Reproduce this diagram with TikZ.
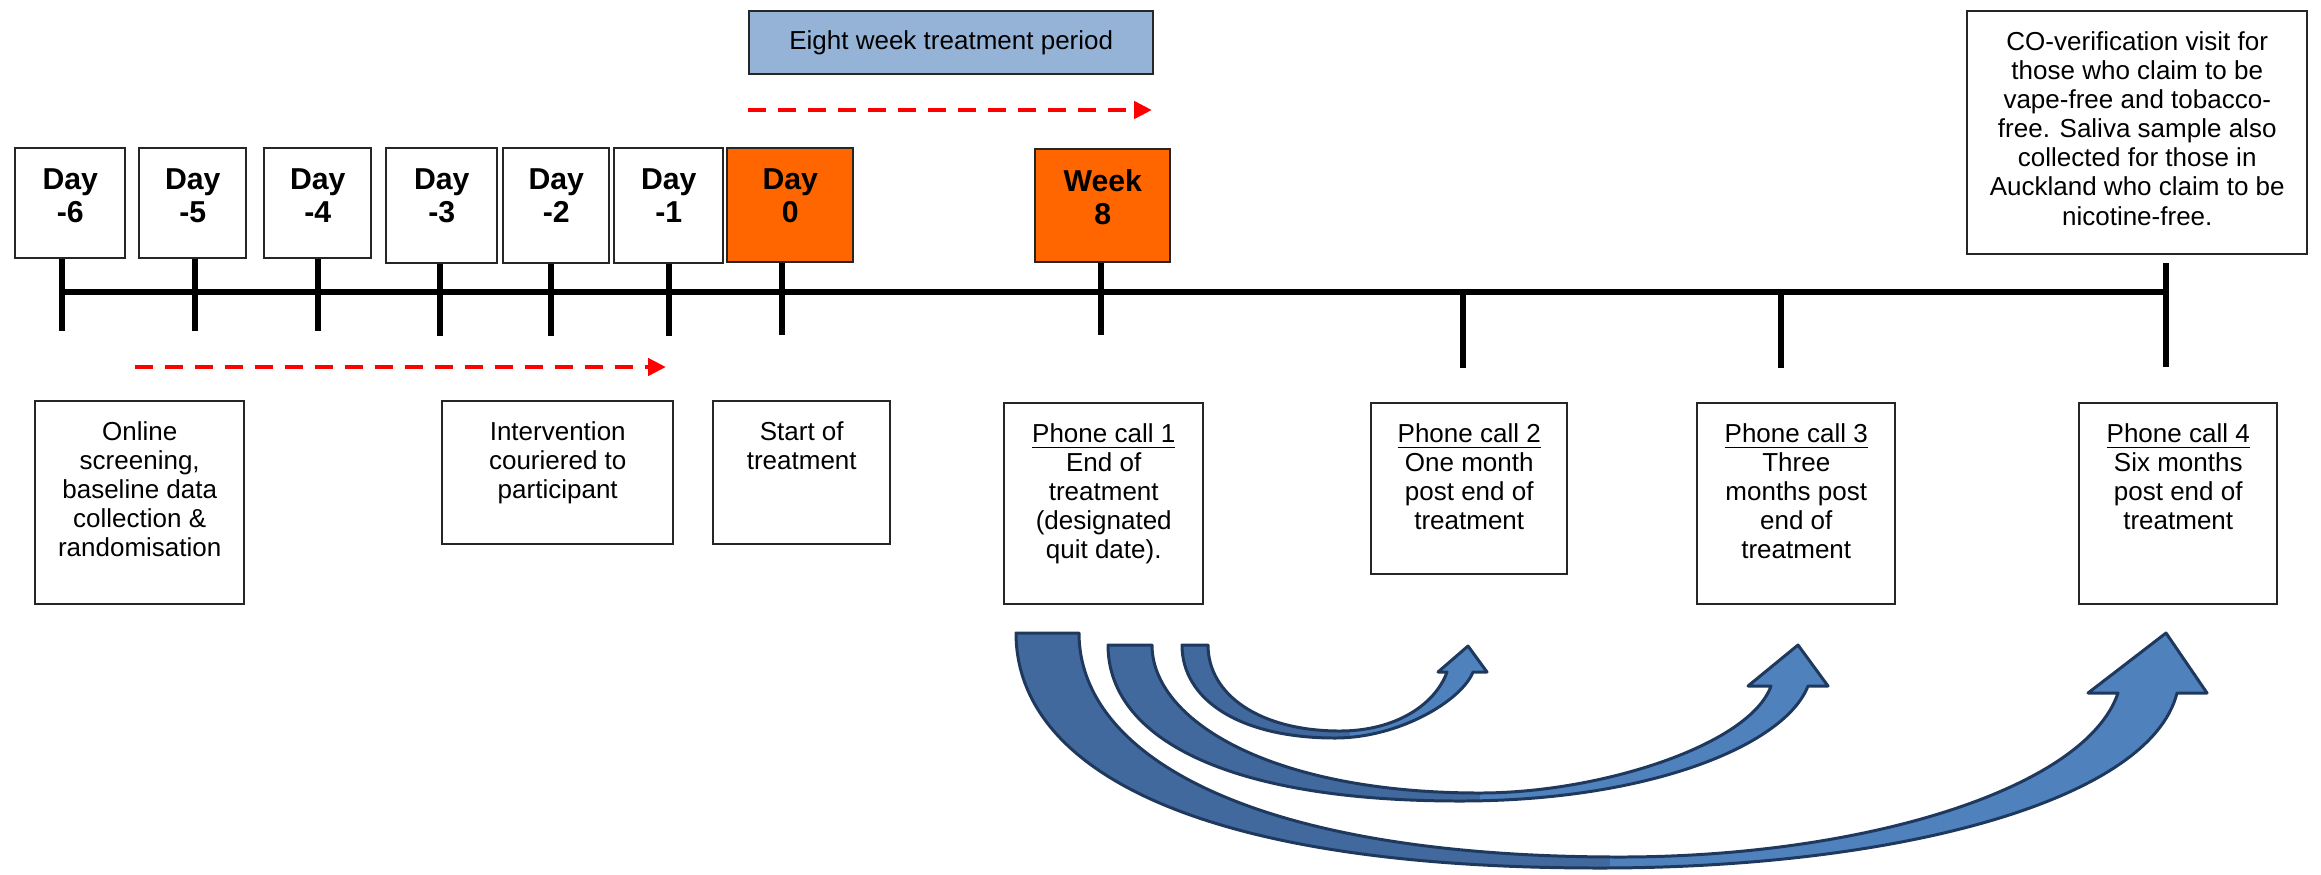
\documentclass[tikz,border=0pt]{standalone}
\usepackage{fontspec}
\setmainfont{Liberation Sans}
\usetikzlibrary{arrows.meta,positioning}

\definecolor{nowOrange}{HTML}{FF6600}
\definecolor{periodBlue}{HTML}{95B3D7}
\definecolor{bandDark}{HTML}{41699E}
\definecolor{bandLight}{HTML}{4F81BD}
\definecolor{bandEdge}{HTML}{1F385D}

% top-aligned, centred text in a box of given width and height
\newcommand{\boxtext}[3]{\parbox[t][#2][t]{#1}{\centering\vspace*{0.2cm}#3}}

\begin{document}
\begin{tikzpicture}[>=Stealth]
  % --- Styles ---
    \tikzset{
      dayBox/.style    = {draw=black!85,line width=0.7pt,fill=white,inner sep=0pt,anchor=north west,
                          font=\fontsize{8.6}{9.4}\selectfont\bfseries},
      dayNow/.style    = {dayBox,fill=nowOrange},
      evt/.style       = {draw=black!85,line width=0.7pt,inner sep=0pt,anchor=north west,
                          font=\fontsize{7.4}{8.3}\selectfont},
      period/.style    = {evt,fill=periodBlue,minimum width=4.04cm,minimum height=0.63cm},
      tline/.style     = {line width=1.6pt},
      tick/.style      = {line width=1.6pt},
      spanArrow/.style = {red,line width=1.4pt,dash pattern=on 0.18cm off 0.12cm,
                          -{Triangle[length=0.18cm,width=0.17cm]}},
      band/.style      = {draw=bandEdge,line width=0.85pt,line join=round,fill=bandLight}
    }

    \useasboundingbox (0,0) rectangle (23.21,-8.74);

    % --- Day boxes above the line ---
    \node[dayBox] (dm6) at (0.14,-1.47) {\boxtext{1.10cm}{1.10cm}{Day\\-6}};
    \node[dayBox] (dm5) at (1.38,-1.47) {\boxtext{1.07cm}{1.10cm}{Day\\-5}};
    \node[dayBox] (dm4) at (2.63,-1.47) {\boxtext{1.07cm}{1.10cm}{Day\\-4}};
    \node[dayBox] (dm3) at (3.85,-1.47) {\boxtext{1.11cm}{1.15cm}{Day\\-3}};
    \node[dayBox] (dm2) at (5.02,-1.47) {\boxtext{1.06cm}{1.15cm}{Day\\-2}};
    \node[dayBox] (dm1) at (6.13,-1.47) {\boxtext{1.09cm}{1.15cm}{Day\\-1}};
    \node[dayNow] (d0)  at (7.26,-1.47) {\boxtext{1.26cm}{1.14cm}{Day\\0}};
    \node[dayNow] (w8)  at (10.34,-1.48) {\boxtext{1.35cm}{1.13cm}{Week\\8}};

    % --- Timeline and ticks ---
    \coordinate (pc2Tick) at (14.63,-2.92);
    \coordinate (pc3Tick) at (17.81,-2.92);
    \coordinate (pc4Tick) at (21.66,-2.92);
    \draw[tline] ([xshift=-0.08cm]dm6.south |- pc4Tick) -- (pc4Tick);
    \foreach \d/\s in {dm6/-0.08,dm5/0.02,dm4/0,dm3/-0.02,dm2/-0.05,dm1/0,d0/-0.08,w8/-0.02}
      \draw[tick] ([xshift=\s cm]\d.south) -- ++(0,-0.72);
    \draw[tick] (pc2Tick) -- ++(0,-0.76);
    \draw[tick] (pc3Tick) -- ++(0,-0.76);
    \draw[tick] ([yshift=0.29cm]pc4Tick) -- ++(0,-1.04);

    % --- Periods (red dashed) ---
    \node[period] (eightWk) at (7.48,-0.10) {Eight week treatment period};
    \coordinate (treatStart) at (7.48,-1.10);
    \coordinate (treatEnd) at (11.52,-1.10);
    \draw[spanArrow] (treatStart) -- (treatEnd);
    \coordinate (leadStart) at (1.35,-3.67);
    \coordinate (leadEnd) at (6.66,-3.67);
    \draw[spanArrow] (leadStart) -- (leadEnd);

    % --- Event boxes ---
    \node[evt] (coVisit) at (19.66,-0.10) {\boxtext{3.40cm}{2.43cm}{CO-verification visit for\\those who claim to be\\vape-free and tobacco-\\free. Saliva sample also\\collected for those in\\Auckland who claim to be\\nicotine-free.}};
    \node[evt] (online) at (0.34,-4.00) {\boxtext{2.09cm}{2.03cm}{Online\\screening,\\baseline data\\collection \&\\randomisation}};
    \node[evt] (courier) at (4.41,-4.00) {\boxtext{2.31cm}{1.43cm}{Intervention\\couriered to\\participant}};
    \node[evt] (startTx) at (7.12,-4.00) {\boxtext{1.77cm}{1.43cm}{Start of\\treatment}};
    \node[evt] (pc1) at (10.03,-4.02) {\boxtext{1.99cm}{2.01cm}{\underline{Phone call 1}\\End of\\treatment\\(designated\\quit date).}};
    \node[evt] (pc2) at (13.70,-4.02) {\boxtext{1.96cm}{1.71cm}{\underline{Phone call 2}\\One month\\post end of\\treatment}};
    \node[evt] (pc3) at (16.96,-4.02) {\boxtext{1.98cm}{2.01cm}{\underline{Phone call 3}\\Three\\months post\\end of\\treatment}};
    \node[evt] (pc4) at (20.78,-4.02) {\boxtext{1.98cm}{2.01cm}{\underline{Phone call 4}\\Six months\\post end of\\treatment}};

    % --- Curved follow-up arrows ---
    \filldraw[band,path picture={\fill[bandDark] (9,-6) rectangle (16.1,-9);}]
      (10.16,-6.33) .. controls (10.16,-7.60) and (11.75,-8.68) .. (16.00,-8.68)
      .. controls (19.00,-8.68) and (21.50,-8.00) .. (21.77,-6.93)
      -- (22.07,-6.93) -- (21.66,-6.33) -- (20.88,-6.93) -- (21.18,-6.93)
      .. controls (20.85,-7.90) and (18.60,-8.57) .. (16.20,-8.57)
      .. controls (12.50,-8.57) and (10.79,-7.55) .. (10.79,-6.33) -- cycle;
    \filldraw[band,path picture={\fill[bandDark] (9,-6) rectangle (14.8,-9);}]
      (11.08,-6.45) .. controls (11.08,-7.35) and (12.20,-8.01) .. (14.60,-8.01)
      .. controls (16.50,-8.01) and (17.85,-7.45) .. (18.08,-6.86)
      -- (18.28,-6.86) -- (17.98,-6.45) -- (17.48,-6.86) -- (17.71,-6.86)
      .. controls (17.50,-7.45) and (16.00,-7.93) .. (14.80,-7.93)
      .. controls (12.70,-7.93) and (11.52,-7.20) .. (11.52,-6.45) -- cycle;
    \filldraw[band,path picture={\fill[bandDark] (9,-6) rectangle (13.5,-9);}]
      (11.82,-6.45) .. controls (11.82,-7.00) and (12.40,-7.38) .. (13.35,-7.38)
      .. controls (14.00,-7.38) and (14.62,-7.00) .. (14.73,-6.72)
      -- (14.87,-6.72) -- (14.68,-6.46) -- (14.38,-6.72) -- (14.47,-6.72)
      .. controls (14.35,-7.05) and (13.95,-7.31) .. (13.40,-7.31)
      .. controls (12.60,-7.31) and (12.08,-6.95) .. (12.08,-6.45) -- cycle;

\end{tikzpicture}
\end{document}
